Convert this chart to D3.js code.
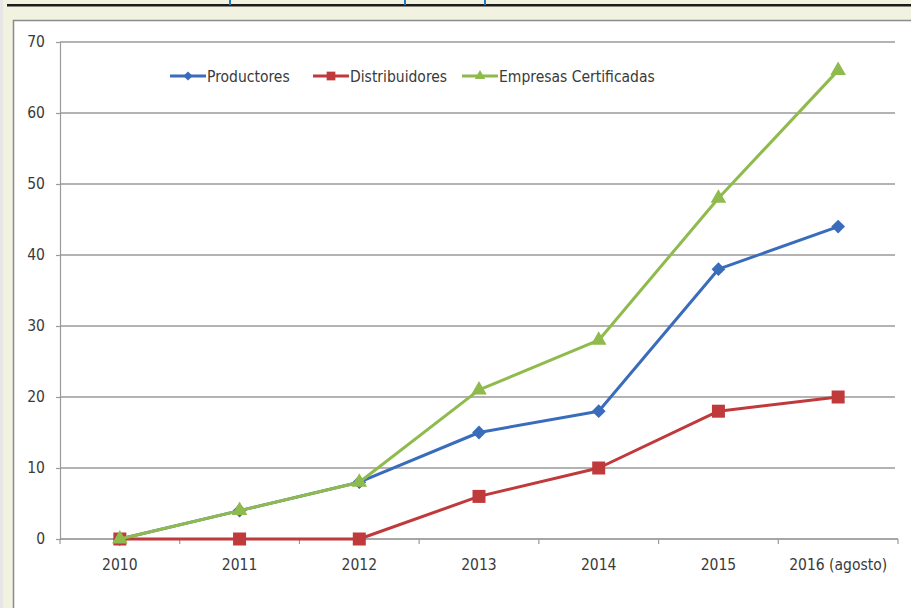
<!DOCTYPE html>
<html>
<head>
<meta charset="utf-8">
<script src="https://cdn.jsdelivr.net/npm/d3@7"></script>
<style>
  html, body { margin: 0; padding: 0; background: #f2f2e0; }
  svg { display: block; }
  text { font-family: "DejaVu Sans Condensed", "Liberation Sans Narrow", sans-serif; fill: #3a3a3a; }
</style>
</head>
<body>
<svg id="chart" width="911" height="608"></svg>
<script>
const years = ["2010", "2011", "2012", "2013", "2014", "2015", "2016 (agosto)"];
const productores = [0, 4, 8, 15, 18, 38, 44];
const distribuidores = [0, 0, 0, 6, 10, 18, 20];
const empresas = [0, 4, 8, 21, 28, 48, 66];
const yTicks = [0, 10, 20, 30, 40, 50, 60, 70];

const seriesNames = ["Productores", "Distribuidores", "Empresas Certificadas"];
const seriesColors = ["#3a6cbc", "#c0393b", "#8fba4c"];
const seriesShapes = [d3.symbolSquare, d3.symbolSquare, d3.symbolTriangle];
const seriesRotate = [45, 0, 0];
const seriesSizes = [95, 169, 105];
const seriesValues = [productores, distribuidores, empresas];

const svg = d3.select("#chart");
const W = 911, H = 608;

// page background band with rule at the top
svg.append("rect").attr("x", 0).attr("y", 0).attr("width", W).attr("height", H).attr("fill", "#f2f2e0");
svg.append("rect").attr("x", 0).attr("y", 0).attr("width", 3).attr("height", H).attr("fill", "#e6e6e6");
svg.append("rect").attr("x", 7).attr("y", 4).attr("width", W - 7).attr("height", 2.5).attr("fill", "#1c1c1c");
[229, 404, 484].forEach(x => {
  svg.append("rect").attr("x", x).attr("y", 0).attr("width", 2).attr("height", 5).attr("fill", "#1f7cc0");
});

// white chart box
svg.append("rect").attr("x", 13.5).attr("y", 20.5).attr("width", W).attr("height", H)
  .attr("fill", "#ffffff").attr("stroke", "#8a8a8a").attr("stroke-width", 1.5);

const plotLeft = 60, plotRight = 898, plotTop = 42, plotBottom = 539;

const x = d3.scaleBand().domain(years).range([plotLeft, plotRight]);
const y = d3.scaleLinear().domain([0, 70]).range([plotBottom, plotTop]);
const cx = d => x(d) + x.bandwidth() / 2;

// horizontal gridlines
svg.append("g")
  .selectAll("line")
  .data(yTicks.filter(d => d > 0))
  .join("line")
  .attr("x1", plotLeft).attr("x2", plotRight - 3)
  .attr("y1", d => y(d)).attr("y2", d => y(d))
  .attr("stroke", "#9a9a9a").attr("stroke-width", 1.5);

// y axis
const yAxis = svg.append("g")
  .attr("transform", `translate(${plotLeft},0)`)
  .call(d3.axisLeft(y).tickValues(yTicks).tickSize(4).tickPadding(11).tickSizeOuter(0));
yAxis.select(".domain").attr("stroke", "#9a9a9a").attr("stroke-width", 1.2);
yAxis.selectAll(".tick line").attr("stroke", "#9a9a9a").attr("stroke-width", 1.2);
yAxis.selectAll(".tick text").attr("font-size", 15.5).style("fill", "#3a3a3a")
  .attr("font-family", "\"DejaVu Sans Condensed\", sans-serif");

// x axis with ticks on category boundaries
const xAxis = svg.append("g").attr("transform", `translate(0,${plotBottom})`);
xAxis.append("line").attr("x1", plotLeft).attr("x2", plotRight).attr("y1", 0).attr("y2", 0)
  .attr("stroke", "#8a8a8a").attr("stroke-width", 1.5);
const bounds = years.map(d => x(d)).concat([x(years[years.length - 1]) + x.bandwidth()]);
xAxis.selectAll("line.bt").data(bounds).join("line").attr("class", "bt")
  .attr("x1", d => d).attr("x2", d => d).attr("y1", 0).attr("y2", 5)
  .attr("stroke", "#9a9a9a").attr("stroke-width", 1.2);
xAxis.selectAll("text").data(years).join("text")
  .attr("x", d => cx(d)).attr("y", 31)
  .attr("text-anchor", "middle").attr("font-size", 15.5)
  .text(d => d);

// series lines and markers
const line = d3.line().x((d, i) => cx(years[i])).y(d => y(d));
seriesValues.forEach((vals, s) => {
  const g = svg.append("g");
  g.append("path").datum(vals).attr("d", line)
    .attr("fill", "none").attr("stroke", seriesColors[s]).attr("stroke-width", 3)
    .attr("stroke-linejoin", "round");
  g.selectAll("path.m").data(vals).join("path").attr("class", "m")
    .attr("transform", (d, i) => `translate(${cx(years[i])},${y(d)}) rotate(${seriesRotate[s]})`)
    .attr("d", d3.symbol().type(seriesShapes[s]).size(seriesSizes[s]))
    .attr("fill", seriesColors[s]);
});

// legend
const legendX = [170, 313, 462];
const legY = 76;
seriesNames.forEach((name, s) => {
  const g = svg.append("g").attr("transform", `translate(${legendX[s]},${legY})`);
  g.append("line").attr("x1", 0).attr("x2", 36).attr("y1", 0).attr("y2", 0)
    .attr("stroke", seriesColors[s]).attr("stroke-width", 3);
  g.append("path").attr("transform", `translate(18,0) rotate(${seriesRotate[s]})`)
    .attr("d", d3.symbol().type(seriesShapes[s]).size(seriesSizes[s] * 0.45))
    .attr("fill", seriesColors[s]);
  g.append("text").attr("x", 37).attr("y", 5.5).attr("font-size", 15.5).text(name);
});
</script>
</body>
</html>
